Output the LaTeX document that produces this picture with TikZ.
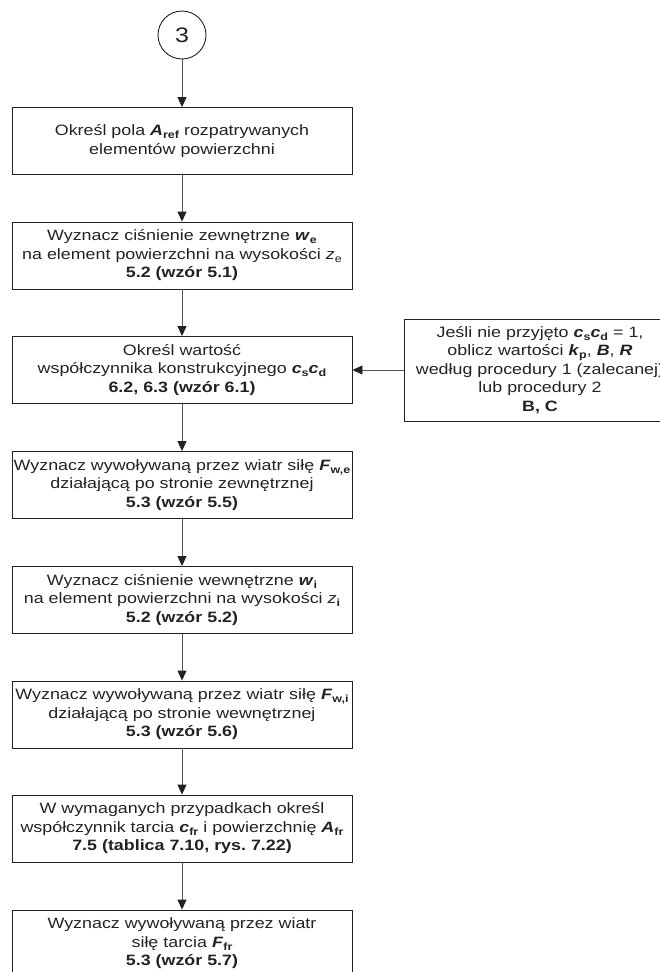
\documentclass[tikz,border=0pt]{standalone}
\usepackage{fontspec}
\setmainfont{Liberation Sans}[FakeStretch=1.19]
\usetikzlibrary{arrows.meta}
\frenchspacing
\newcommand\bivar[1]{\textbf{\textit{#1}}}
\newcommand\sbsb[1]{\raisebox{-0.35ex}{\fontsize{10.5}{10.5}\selectfont\bfseries #1}}
\newcommand\sbsn[1]{\raisebox{-0.35ex}{\fontsize{10.5}{10.5}\selectfont #1}}
\definecolor{ink}{HTML}{222222}
\definecolor{conn}{HTML}{555555}
\tikzset{
  stepbox/.style={draw=ink, line width=0.9pt, minimum width=340pt, minimum height=67pt,
    text width=340pt, align=center, inner sep=0pt, text=ink,
    font=\fontsize{15}{18.5}\selectfont},
  sidebox/.style={stepbox, minimum width=272pt, minimum height=102pt, text width=272pt},
  startcircle/.style={draw=ink, line width=0.9pt, circle, minimum size=48pt, inner sep=0pt,
    text=ink, font=\fontsize{21}{21}\selectfont},
  flow/.style={draw=conn, line width=0.9pt, -{Triangle[length=10pt,width=9pt,color=ink]}}
}
\begin{document}
\begin{tikzpicture}[x=1pt,y=-1pt]
\clip (0,0) rectangle (660,972);
\node[startcircle] (c3) at (182,35) {3};
\node[stepbox] (b1) at (182,141) {Określ pola \bivar{A}\sbsb{ref} rozpatrywanych\\elementów powierzchni};
\node[stepbox] (b2) at (182,255.5) {Wyznacz ciśnienie zewnętrzne \bivar{w}\sbsb{e}\\na element powierzchni na wysokości \textit{z}\sbsn{e}\\\textbf{5.2 (wzór 5.1)}};
\node[stepbox] (b3) at (182,370) {Określ wartość\\współczynnika konstrukcyjnego \bivar{c}\sbsb{s}\bivar{c}\sbsb{d}\\\textbf{6.2, 6.3 (wzór 6.1)}};
\node[stepbox] (b4) at (182,485) {Wyznacz wywoływaną przez wiatr siłę \bivar{F}\sbsb{w,e}\\działającą po stronie zewnętrznej\\\textbf{5.3 (wzór 5.5)}};
\node[stepbox] (b5) at (182,600) {Wyznacz ciśnienie wewnętrzne \bivar{w}\sbsb{i}\\na element powierzchni na wysokości \textit{z}\sbsb{i}\\\textbf{5.2 (wzór 5.2)}};
\node[stepbox] (b6) at (182,714.5) {Wyznacz wywoływaną przez wiatr siłę \bivar{F}\sbsb{w,i}\\działającą po stronie wewnętrznej\\\textbf{5.3 (wzór 5.6)}};
\node[stepbox] (b7) at (182,828.5) {W wymaganych przypadkach określ\\współczynnik tarcia \bivar{c}\sbsb{fr} i powierzchnię \bivar{A}\sbsb{fr}\\\textbf{7.5 (tablica 7.10, rys.\ 7.22)}};
\node[stepbox] (b8) at (182,943.5) {Wyznacz wywoływaną przez wiatr\\siłę tarcia \bivar{F}\sbsb{fr}\\\textbf{5.3 (wzór 5.7)}};
\node[sidebox] (side) at (540,370) {Jeśli nie przyjęto \bivar{c}\sbsb{s}\bivar{c}\sbsb{d} = 1,\\oblicz wartości \bivar{k}\sbsb{p}, \bivar{B}, \bivar{R}\\według procedury 1 (zalecanej)\\lub procedury 2\\\textbf{B, C}};
\draw[flow] (c3) -- (b1);
\draw[flow] (b1) -- (b2);
\draw[flow] (b2) -- (b3);
\draw[flow] (b3) -- (b4);
\draw[flow] (b4) -- (b5);
\draw[flow] (b5) -- (b6);
\draw[flow] (b6) -- (b7);
\draw[flow] (b7) -- (b8);
\draw[flow] (side) -- (b3);
\end{tikzpicture}
\end{document}
